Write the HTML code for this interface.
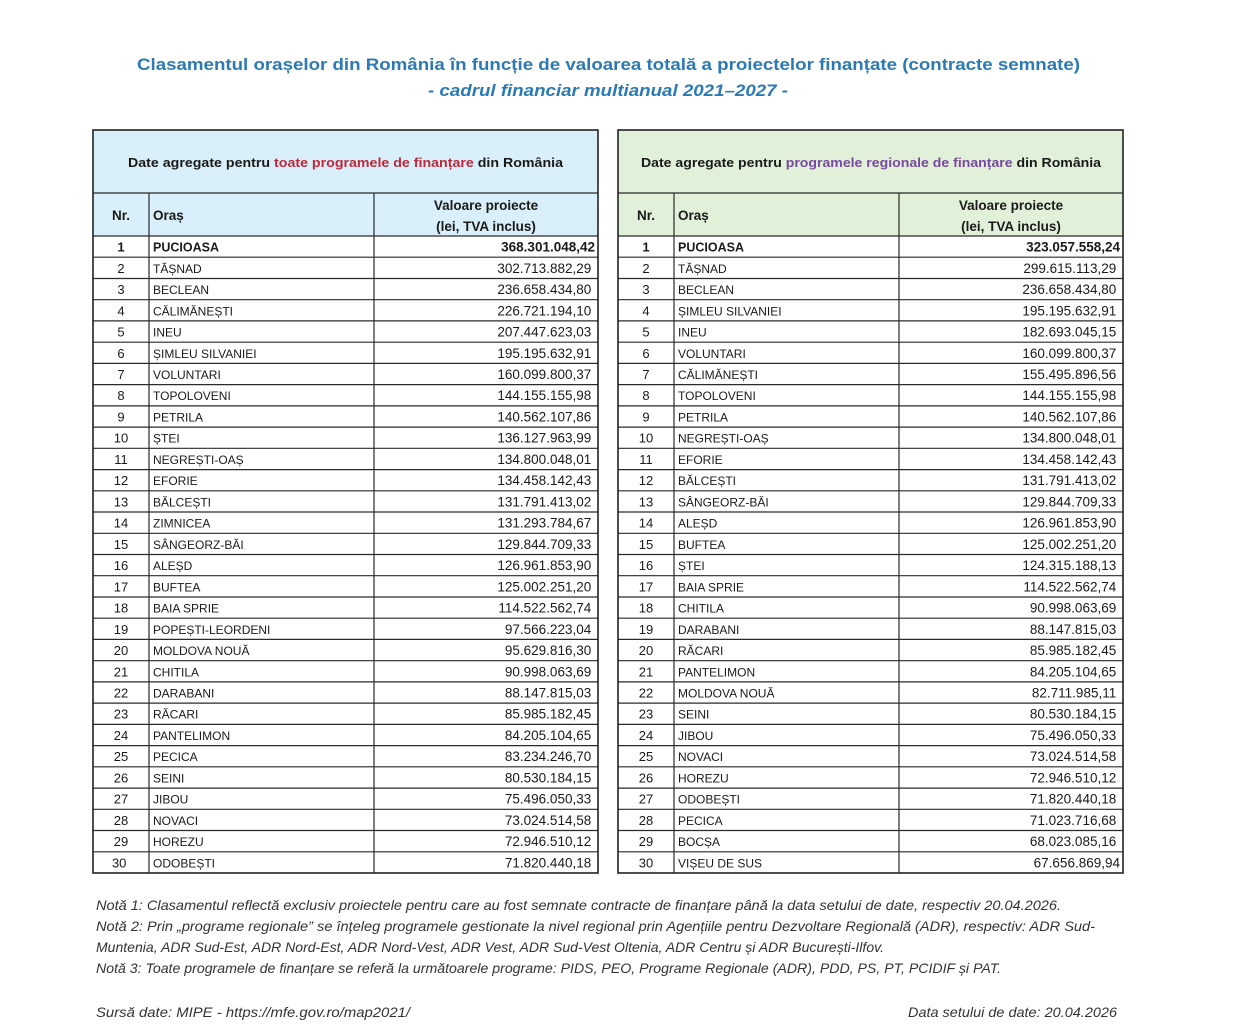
<!DOCTYPE html>
<html lang="ro">
<head>
<meta charset="utf-8">
<style>
html,body{margin:0;padding:0;background:#fff;}
svg{display:block;}
text{font-family:"Liberation Sans",Arial,sans-serif;}
</style>
</head>
<body>
<svg width="1242" height="1033" viewBox="0 0 1242 1033" xmlns="http://www.w3.org/2000/svg">
<rect x="0" y="0" width="1242" height="1033" fill="#ffffff"/>

<!-- Titles -->
<text x="137" y="70" font-size="17" font-weight="bold" fill="#2b7ab5" textLength="943" lengthAdjust="spacingAndGlyphs">Clasamentul orașelor din România în funcție de valoarea totală a proiectelor finanțate (contracte semnate)</text>
<text x="428" y="96" font-size="17" font-weight="bold" font-style="italic" fill="#2b7ab5" textLength="360" lengthAdjust="spacingAndGlyphs">- cadrul financiar multianual 2021–2027 -</text>

<!-- Header fills -->
<rect x="93" y="130" width="505" height="106" fill="#d9eff9"/>
<rect x="618" y="130" width="505" height="106" fill="#e1f1d9"/>

<!-- Header texts -->
<text x="128" y="167" font-size="13" font-weight="bold" fill="#1a1a1a" textLength="435" lengthAdjust="spacingAndGlyphs">Date agregate pentru <tspan fill="#c0283a">toate programele de finanțare</tspan> din România</text>
<text x="641" y="167" font-size="13" font-weight="bold" fill="#1a1a1a" textLength="460" lengthAdjust="spacingAndGlyphs">Date agregate pentru <tspan fill="#7a48a0">programele regionale de finanțare</tspan> din România</text>

<g font-size="13.5" font-weight="bold" fill="#1a1a1a">
<text x="121" y="220" text-anchor="middle">Nr.</text>
<text x="153" y="220">Oraș</text>
<text x="486" y="210" text-anchor="middle">Valoare proiecte</text>
<text x="486" y="231" text-anchor="middle">(lei, TVA inclus)</text>
<text x="646" y="220" text-anchor="middle">Nr.</text>
<text x="678" y="220">Oraș</text>
<text x="1011" y="210" text-anchor="middle">Valoare proiecte</text>
<text x="1011" y="231" text-anchor="middle">(lei, TVA inclus)</text>
</g>

<!-- Grid lines -->
<path fill="none" stroke="#2a2a2a" stroke-width="1.2" d="
M93 193H598M618 193H1123
M93 236H598M618 236H1123
M93 257.2H598M618 257.2H1123
M93 278.5H598M618 278.5H1123
M93 299.7H598M618 299.7H1123
M93 320.9H598M618 320.9H1123
M93 342.2H598M618 342.2H1123
M93 363.4H598M618 363.4H1123
M93 384.6H598M618 384.6H1123
M93 405.9H598M618 405.9H1123
M93 427.1H598M618 427.1H1123
M93 448.3H598M618 448.3H1123
M93 469.6H598M618 469.6H1123
M93 490.8H598M618 490.8H1123
M93 512H598M618 512H1123
M93 533.3H598M618 533.3H1123
M93 554.5H598M618 554.5H1123
M93 575.7H598M618 575.7H1123
M93 597H598M618 597H1123
M93 618.2H598M618 618.2H1123
M93 639.4H598M618 639.4H1123
M93 660.7H598M618 660.7H1123
M93 681.9H598M618 681.9H1123
M93 703.1H598M618 703.1H1123
M93 724.4H598M618 724.4H1123
M93 745.6H598M618 745.6H1123
M93 766.8H598M618 766.8H1123
M93 788.1H598M618 788.1H1123
M93 809.3H598M618 809.3H1123
M93 830.5H598M618 830.5H1123
M93 851.8H598M618 851.8H1123
M149 193V873M374 193V873
M674 193V873M899 193V873
"/>
<rect x="93" y="130" width="505" height="743" fill="none" stroke="#222" stroke-width="1.6"/>
<rect x="618" y="130" width="505" height="743" fill="none" stroke="#222" stroke-width="1.6"/>

<!-- Nr columns -->
<g fill="#1a1a1a" font-size="13" text-anchor="middle">
<text font-weight="bold"><tspan x="121" y="251.6">1</tspan><tspan x="646" y="251.6">1</tspan></text>
<text>
<tspan x="121" y="272.8">2</tspan><tspan x="121" y="294.1">3</tspan><tspan x="121" y="315.3">4</tspan><tspan x="121" y="336.5">5</tspan><tspan x="121" y="357.8">6</tspan><tspan x="121" y="379">7</tspan><tspan x="121" y="400.2">8</tspan><tspan x="121" y="421.5">9</tspan><tspan x="121" y="442.7">10</tspan><tspan x="121" y="463.9">11</tspan><tspan x="121" y="485.2">12</tspan><tspan x="121" y="506.4">13</tspan><tspan x="121" y="527.6">14</tspan><tspan x="121" y="548.9">15</tspan><tspan x="121" y="570.1">16</tspan><tspan x="121" y="591.3">17</tspan><tspan x="121" y="612.6">18</tspan><tspan x="121" y="633.8">19</tspan><tspan x="121" y="655">20</tspan><tspan x="121" y="676.3">21</tspan><tspan x="121" y="697.5">22</tspan><tspan x="121" y="718.7">23</tspan><tspan x="121" y="740">24</tspan><tspan x="121" y="761.2">25</tspan><tspan x="121" y="782.4">26</tspan><tspan x="121" y="803.7">27</tspan><tspan x="121" y="824.9">28</tspan><tspan x="121" y="846.1">29</tspan><tspan x="121" y="867.4">30</tspan>
<tspan x="646" y="272.8">2</tspan><tspan x="646" y="294.1">3</tspan><tspan x="646" y="315.3">4</tspan><tspan x="646" y="336.5">5</tspan><tspan x="646" y="357.8">6</tspan><tspan x="646" y="379">7</tspan><tspan x="646" y="400.2">8</tspan><tspan x="646" y="421.5">9</tspan><tspan x="646" y="442.7">10</tspan><tspan x="646" y="463.9">11</tspan><tspan x="646" y="485.2">12</tspan><tspan x="646" y="506.4">13</tspan><tspan x="646" y="527.6">14</tspan><tspan x="646" y="548.9">15</tspan><tspan x="646" y="570.1">16</tspan><tspan x="646" y="591.3">17</tspan><tspan x="646" y="612.6">18</tspan><tspan x="646" y="633.8">19</tspan><tspan x="646" y="655">20</tspan><tspan x="646" y="676.3">21</tspan><tspan x="646" y="697.5">22</tspan><tspan x="646" y="718.7">23</tspan><tspan x="646" y="740">24</tspan><tspan x="646" y="761.2">25</tspan><tspan x="646" y="782.4">26</tspan><tspan x="646" y="803.7">27</tspan><tspan x="646" y="824.9">28</tspan><tspan x="646" y="846.1">29</tspan><tspan x="646" y="867.4">30</tspan>
</text>
</g>

<!-- City columns -->
<g fill="#1a1a1a">
<text font-size="12.5" font-weight="bold"><tspan x="153" y="251.6">PUCIOASA</tspan><tspan x="678" y="251.6">PUCIOASA</tspan></text>
<text font-size="12">
<tspan x="153" y="272.8">TĂȘNAD</tspan>
<tspan x="153" y="294.1">BECLEAN</tspan>
<tspan x="153" y="315.3">CĂLIMĂNEȘTI</tspan>
<tspan x="153" y="336.5">INEU</tspan>
<tspan x="153" y="357.8">ȘIMLEU SILVANIEI</tspan>
<tspan x="153" y="379">VOLUNTARI</tspan>
<tspan x="153" y="400.2">TOPOLOVENI</tspan>
<tspan x="153" y="421.5">PETRILA</tspan>
<tspan x="153" y="442.7">ȘTEI</tspan>
<tspan x="153" y="463.9">NEGREȘTI-OAȘ</tspan>
<tspan x="153" y="485.2">EFORIE</tspan>
<tspan x="153" y="506.4">BĂLCEȘTI</tspan>
<tspan x="153" y="527.6">ZIMNICEA</tspan>
<tspan x="153" y="548.9">SÂNGEORZ-BĂI</tspan>
<tspan x="153" y="570.1">ALEȘD</tspan>
<tspan x="153" y="591.3">BUFTEA</tspan>
<tspan x="153" y="612.6">BAIA SPRIE</tspan>
<tspan x="153" y="633.8">POPEȘTI-LEORDENI</tspan>
<tspan x="153" y="655">MOLDOVA NOUĂ</tspan>
<tspan x="153" y="676.3">CHITILA</tspan>
<tspan x="153" y="697.5">DARABANI</tspan>
<tspan x="153" y="718.7">RĂCARI</tspan>
<tspan x="153" y="740">PANTELIMON</tspan>
<tspan x="153" y="761.2">PECICA</tspan>
<tspan x="153" y="782.4">SEINI</tspan>
<tspan x="153" y="803.7">JIBOU</tspan>
<tspan x="153" y="824.9">NOVACI</tspan>
<tspan x="153" y="846.1">HOREZU</tspan>
<tspan x="153" y="867.4">ODOBEȘTI</tspan>
<tspan x="678" y="272.8">TĂȘNAD</tspan>
<tspan x="678" y="294.1">BECLEAN</tspan>
<tspan x="678" y="315.3">ȘIMLEU SILVANIEI</tspan>
<tspan x="678" y="336.5">INEU</tspan>
<tspan x="678" y="357.8">VOLUNTARI</tspan>
<tspan x="678" y="379">CĂLIMĂNEȘTI</tspan>
<tspan x="678" y="400.2">TOPOLOVENI</tspan>
<tspan x="678" y="421.5">PETRILA</tspan>
<tspan x="678" y="442.7">NEGREȘTI-OAȘ</tspan>
<tspan x="678" y="463.9">EFORIE</tspan>
<tspan x="678" y="485.2">BĂLCEȘTI</tspan>
<tspan x="678" y="506.4">SÂNGEORZ-BĂI</tspan>
<tspan x="678" y="527.6">ALEȘD</tspan>
<tspan x="678" y="548.9">BUFTEA</tspan>
<tspan x="678" y="570.1">ȘTEI</tspan>
<tspan x="678" y="591.3">BAIA SPRIE</tspan>
<tspan x="678" y="612.6">CHITILA</tspan>
<tspan x="678" y="633.8">DARABANI</tspan>
<tspan x="678" y="655">RĂCARI</tspan>
<tspan x="678" y="676.3">PANTELIMON</tspan>
<tspan x="678" y="697.5">MOLDOVA NOUĂ</tspan>
<tspan x="678" y="718.7">SEINI</tspan>
<tspan x="678" y="740">JIBOU</tspan>
<tspan x="678" y="761.2">NOVACI</tspan>
<tspan x="678" y="782.4">HOREZU</tspan>
<tspan x="678" y="803.7">ODOBEȘTI</tspan>
<tspan x="678" y="824.9">PECICA</tspan>
<tspan x="678" y="846.1">BOCȘA</tspan>
<tspan x="678" y="867.4">VIȘEU DE SUS</tspan>
</text>
</g>

<!-- Value columns -->
<g fill="#1a1a1a" font-size="13.5" text-anchor="end">
<text font-weight="bold"><tspan x="595" y="251.6">368.301.048,42</tspan><tspan x="1120" y="251.6">323.057.558,24</tspan></text>
<text>
<tspan x="595" y="272.8">302.713.882,29</tspan>
<tspan x="595" y="294.1">236.658.434,80</tspan>
<tspan x="595" y="315.3">226.721.194,10</tspan>
<tspan x="595" y="336.5">207.447.623,03</tspan>
<tspan x="595" y="357.8">195.195.632,91</tspan>
<tspan x="595" y="379">160.099.800,37</tspan>
<tspan x="595" y="400.2">144.155.155,98</tspan>
<tspan x="595" y="421.5">140.562.107,86</tspan>
<tspan x="595" y="442.7">136.127.963,99</tspan>
<tspan x="595" y="463.9">134.800.048,01</tspan>
<tspan x="595" y="485.2">134.458.142,43</tspan>
<tspan x="595" y="506.4">131.791.413,02</tspan>
<tspan x="595" y="527.6">131.293.784,67</tspan>
<tspan x="595" y="548.9">129.844.709,33</tspan>
<tspan x="595" y="570.1">126.961.853,90</tspan>
<tspan x="595" y="591.3">125.002.251,20</tspan>
<tspan x="595" y="612.6">114.522.562,74</tspan>
<tspan x="595" y="633.8">97.566.223,04</tspan>
<tspan x="595" y="655">95.629.816,30</tspan>
<tspan x="595" y="676.3">90.998.063,69</tspan>
<tspan x="595" y="697.5">88.147.815,03</tspan>
<tspan x="595" y="718.7">85.985.182,45</tspan>
<tspan x="595" y="740">84.205.104,65</tspan>
<tspan x="595" y="761.2">83.234.246,70</tspan>
<tspan x="595" y="782.4">80.530.184,15</tspan>
<tspan x="595" y="803.7">75.496.050,33</tspan>
<tspan x="595" y="824.9">73.024.514,58</tspan>
<tspan x="595" y="846.1">72.946.510,12</tspan>
<tspan x="595" y="867.4">71.820.440,18</tspan>
<tspan x="1120" y="272.8">299.615.113,29</tspan>
<tspan x="1120" y="294.1">236.658.434,80</tspan>
<tspan x="1120" y="315.3">195.195.632,91</tspan>
<tspan x="1120" y="336.5">182.693.045,15</tspan>
<tspan x="1120" y="357.8">160.099.800,37</tspan>
<tspan x="1120" y="379">155.495.896,56</tspan>
<tspan x="1120" y="400.2">144.155.155,98</tspan>
<tspan x="1120" y="421.5">140.562.107,86</tspan>
<tspan x="1120" y="442.7">134.800.048,01</tspan>
<tspan x="1120" y="463.9">134.458.142,43</tspan>
<tspan x="1120" y="485.2">131.791.413,02</tspan>
<tspan x="1120" y="506.4">129.844.709,33</tspan>
<tspan x="1120" y="527.6">126.961.853,90</tspan>
<tspan x="1120" y="548.9">125.002.251,20</tspan>
<tspan x="1120" y="570.1">124.315.188,13</tspan>
<tspan x="1120" y="591.3">114.522.562,74</tspan>
<tspan x="1120" y="612.6">90.998.063,69</tspan>
<tspan x="1120" y="633.8">88.147.815,03</tspan>
<tspan x="1120" y="655">85.985.182,45</tspan>
<tspan x="1120" y="676.3">84.205.104,65</tspan>
<tspan x="1120" y="697.5">82.711.985,11</tspan>
<tspan x="1120" y="718.7">80.530.184,15</tspan>
<tspan x="1120" y="740">75.496.050,33</tspan>
<tspan x="1120" y="761.2">73.024.514,58</tspan>
<tspan x="1120" y="782.4">72.946.510,12</tspan>
<tspan x="1120" y="803.7">71.820.440,18</tspan>
<tspan x="1120" y="824.9">71.023.716,68</tspan>
<tspan x="1120" y="846.1">68.023.085,16</tspan>
<tspan x="1120" y="867.4">67.656.869,94</tspan>
</text>
</g>

<!-- Notes -->
<g fill="#333" font-size="14" font-style="italic">
<text x="96" y="910" textLength="965" lengthAdjust="spacingAndGlyphs">Notă 1: Clasamentul reflectă exclusiv proiectele pentru care au fost semnate contracte de finanțare până la data setului de date, respectiv 20.04.2026.</text>
<text x="96" y="931" textLength="999" lengthAdjust="spacingAndGlyphs">Notă 2: Prin „programe regionale” se înțeleg programele gestionate la nivel regional prin Agențiile pentru Dezvoltare Regională (ADR), respectiv: ADR Sud-</text>
<text x="96" y="952" textLength="788" lengthAdjust="spacingAndGlyphs">Muntenia, ADR Sud-Est, ADR Nord-Est, ADR Nord-Vest, ADR Vest, ADR Sud-Vest Oltenia, ADR Centru și ADR București-Ilfov.</text>
<text x="96" y="973" textLength="905" lengthAdjust="spacingAndGlyphs">Notă 3: Toate programele de finanțare se referă la următoarele programe: PIDS, PEO, Programe Regionale (ADR), PDD, PS, PT, PCIDIF și PAT.</text>
<text x="96" y="1017" textLength="314" lengthAdjust="spacingAndGlyphs">Sursă date: MIPE - https://mfe.gov.ro/map2021/</text>
<text x="908" y="1017" textLength="209" lengthAdjust="spacingAndGlyphs">Data setului de date: 20.04.2026</text>
</g>
</svg>
</body>
</html>
